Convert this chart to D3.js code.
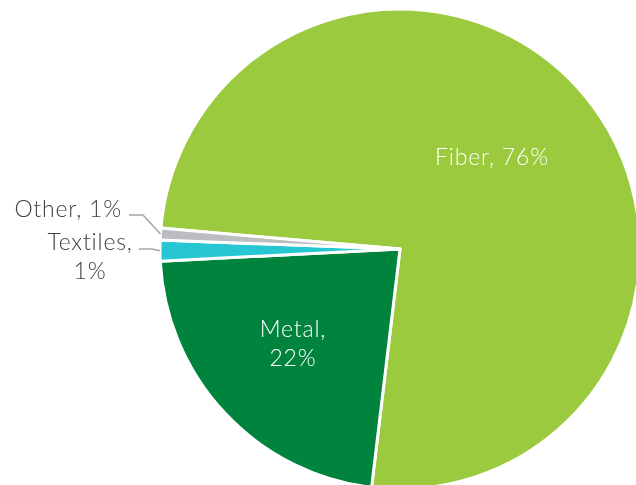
<!DOCTYPE html>
<html>
<head>
<meta charset="utf-8">
<script src="https://cdn.jsdelivr.net/npm/d3@7"></script>
<style>
  html, body { margin: 0; padding: 0; background: #fff; overflow: hidden; }
  svg { will-change: transform; }
  text { font-family: "Lato", "Open Sans", sans-serif; font-weight: 300; letter-spacing: 0.8px;
         -webkit-font-smoothing: antialiased; }
</style>
</head>
<body>
<svg id="chart" width="636" height="485"></svg>
<script>
const categories = ["Fiber", "Metal", "Textiles", "Other"];
const values = [75.5, 22.3, 1.4, 0.8];
const colors = ["#9BCA3E", "#00843D", "#26C6D2", "#BCBDC0"];

const svg = d3.select("#chart");
const cx = 400, cy = 249, r = 240;
const startDeg = -85;

const pie = d3.pie().sort(null)
  .startAngle(startDeg * Math.PI / 180)
  .endAngle(startDeg * Math.PI / 180 + 2 * Math.PI);
const arcs = pie(values);
const arc = d3.arc().innerRadius(0).outerRadius(r);

const g = svg.append("g").attr("transform", `translate(${cx},${cy})`);
g.selectAll("path").data(arcs).enter().append("path")
  .attr("d", arc)
  .attr("fill", (d, i) => colors[i])
  .attr("stroke", "#fff")
  .attr("stroke-width", 3)
  .attr("stroke-linejoin", "round");

const pct = v => Math.round(v) + "%";
const fs = 23, lh = 29;

function addText(l, fill) {
  const t = svg.append("text")
    .attr("x", l.x).attr("y", l.y)
    .attr("text-anchor", l.anchor || "middle")
    .attr("fill", fill)
    .attr("font-size", fs);
  l.lines.forEach((s, k) => {
    t.append("tspan").attr("x", l.x)
      .attr("y", l.y + k * lh)
      .text(s);
  });
}

// inside labels (y = first baseline)
[
  { lines: [categories[0] + ", " + pct(values[0])], x: 492, y: 165 },
  { lines: [categories[1] + ",", pct(values[1])], x: 293, y: 337 }
].forEach(l => addText(l, "#fff"));

// outside labels with leader lines
const outside = [
  { i: 3, lines: [categories[3] + ", " + pct(values[3])], x: 122, y: 217, anchor: "end",
    line: [[129, 215], [143, 215]] },
  { i: 2, lines: [categories[2] + ",", pct(values[2])], x: 90, y: 250, anchor: "middle",
    line: [[139, 249], [152, 249]] }
];
outside.forEach(l => {
  const d = arcs[l.i];
  const mid = (d.startAngle + d.endAngle) / 2;
  const px = cx + Math.sin(mid) * r, py = cy - Math.cos(mid) * r;
  svg.append("path")
    .attr("d", d3.line()(l.line.concat([[px, py]])))
    .attr("fill", "none")
    .attr("stroke", "#A6A6A6")
    .attr("stroke-width", 1.5);
  addText(l, "#404040");
});
</script>
</body>
</html>
